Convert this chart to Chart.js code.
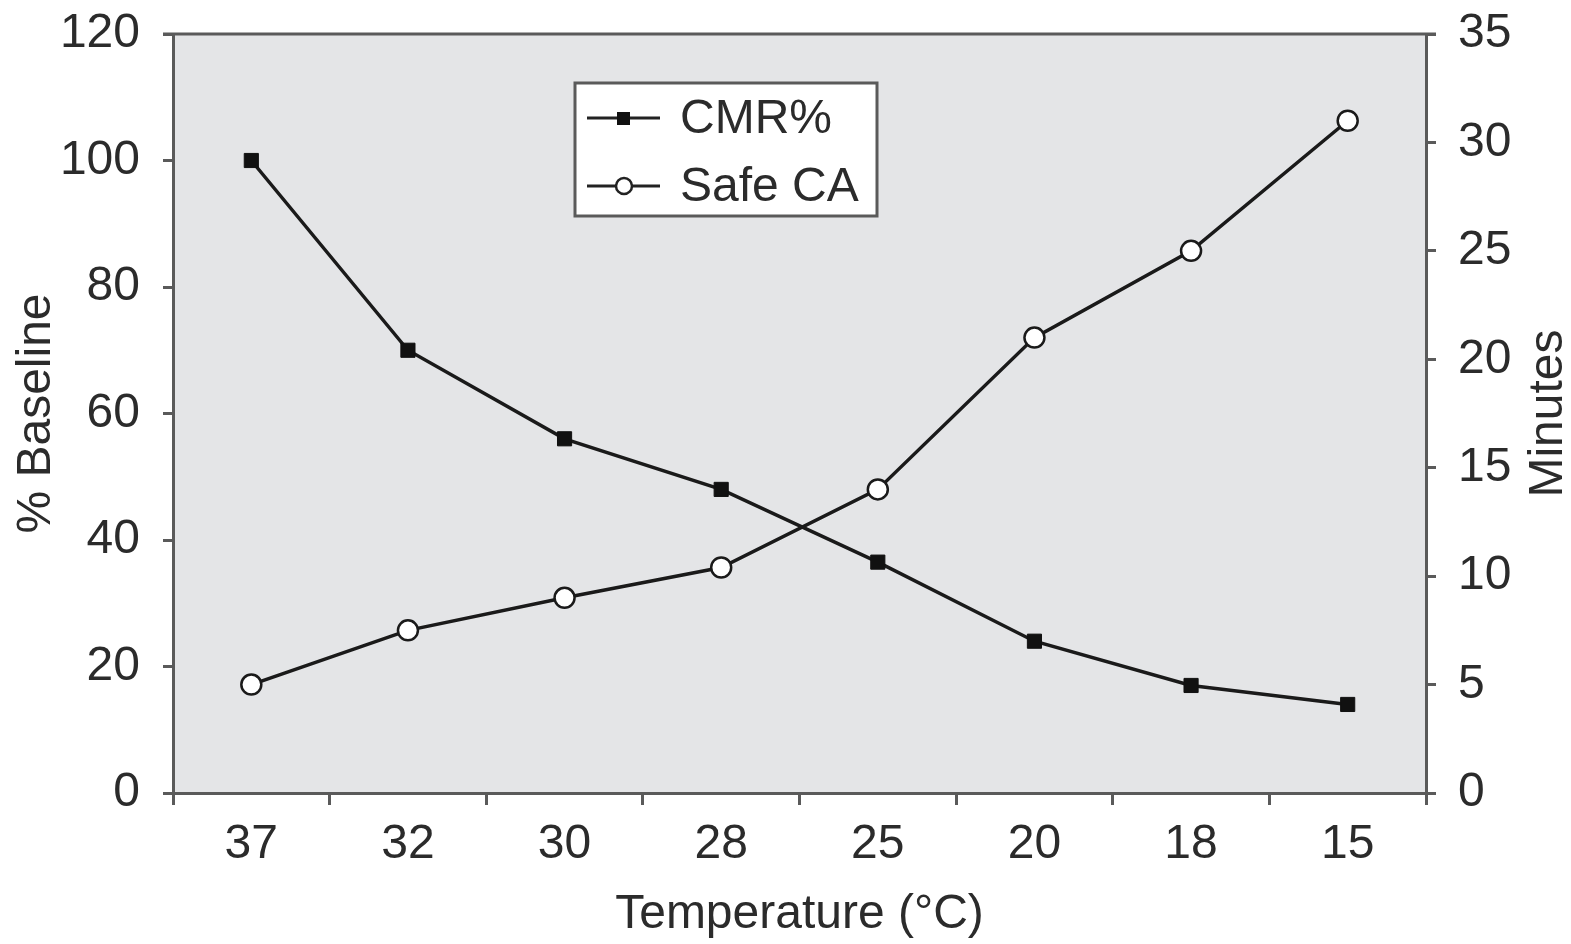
<!DOCTYPE html>
<html>
<head>
<meta charset="utf-8">
<script src="https://cdn.jsdelivr.net/npm/chart.js@4.4.1/dist/chart.umd.min.js"></script>
<style>
  html, body { margin: 0; padding: 0; background: #fff; }
  #wrap { width: 1571px; height: 944px; position: relative; }
</style>
</head>
<body>
<div id="wrap"><canvas id="chart"></canvas></div>
<script>
// temperature categories and the two series
const temperatures = ['37', '32', '30', '28', '25', '20', '18', '15'];
const cmrPercent = [100, 70, 56, 48, 36.5, 24, 17, 14];      // left axis, % baseline
const safeCAMinutes = [5, 7.5, 9, 10.4, 14, 21, 25, 31];      // right axis, minutes
const rightTitle = 'Minutes';

const FONT = '"Liberation Sans", Arial, Helvetica, sans-serif';
const INK = '#2b2b2b';
const AXIS = '#5a5a5a';

// gray plot background + top frame line
const plotFrame = {
  id: 'plotFrame',
  beforeDraw(chart) {
    const { ctx, chartArea: a } = chart;
    ctx.save();
    ctx.fillStyle = '#e4e5e7';
    ctx.fillRect(a.left, a.top, a.right - a.left, a.bottom - a.top);
    ctx.strokeStyle = AXIS;
    ctx.lineWidth = 3;
    ctx.beginPath();
    ctx.moveTo(a.left - 10, a.top);
    ctx.lineTo(a.right + 10, a.top);
    ctx.stroke();
    ctx.restore();
  }
};

// right axis title reads bottom-to-top in the original, chart.js rotates it the other way
const rightAxisTitle = {
  id: 'rightAxisTitle',
  afterDraw(chart) {
    const { ctx, chartArea: a } = chart;
    ctx.save();
    ctx.translate(chart.width - 22, (a.top + a.bottom) / 2);
    ctx.rotate(-Math.PI / 2);
    ctx.font = '48px ' + FONT;
    ctx.fillStyle = INK;
    ctx.textAlign = 'center';
    ctx.textBaseline = 'middle';
    ctx.fillText(rightTitle, 0, 0);
    ctx.restore();
  }
};

// boxed legend inside the plot, like the original
const boxLegend = {
  id: 'boxLegend',
  afterDraw(chart) {
    const { ctx, chartArea: a } = chart;
    const x = a.left + 402, y = a.top + 49, w = 302, h = 133;
    ctx.save();
    ctx.fillStyle = '#fff';
    ctx.fillRect(x, y, w, h);
    ctx.strokeStyle = AXIS;
    ctx.lineWidth = 3;
    ctx.strokeRect(x, y, w, h);
    ctx.font = '48px ' + FONT;
    ctx.textBaseline = 'middle';
    chart.data.datasets.forEach((ds, i) => {
      const cy = y + 35 + i * 68;
      ctx.strokeStyle = '#222';
      ctx.lineWidth = 3;
      ctx.beginPath();
      ctx.moveTo(x + 12, cy);
      ctx.lineTo(x + 85, cy);
      ctx.stroke();
      if (ds.pointStyle === 'rect') {
        ctx.fillStyle = '#111';
        ctx.fillRect(x + 42, cy - 6, 13, 13);
      } else {
        ctx.fillStyle = '#fff';
        ctx.lineWidth = 2.5;
        ctx.beginPath();
        ctx.arc(x + 49, cy, 8, 0, Math.PI * 2);
        ctx.fill();
        ctx.stroke();
      }
      ctx.fillStyle = INK;
      ctx.fillText(ds.label, x + 105, cy + 2);
    });
    ctx.restore();
  }
};

const tickFont = { family: FONT, size: 48 };

// fixed axis sizes so the plot box lands where the original has it
function fixY(width) {
  return scale => {
    scale.width = width;
    scale.paddingTop = 0;
    scale.paddingBottom = 0;
  };
}

new Chart(document.getElementById('chart'), {
  type: 'line',
  data: {
    labels: temperatures,
    datasets: [
      {
        label: 'CMR%',
        data: cmrPercent,
        yAxisID: 'y',
        borderColor: '#1a1a1a',
        borderWidth: 3.5,
        pointStyle: 'rect',
        pointRadius: 10,
        pointBackgroundColor: '#111',
        pointBorderColor: '#111',
        pointBorderWidth: 1,
        tension: 0
      },
      {
        label: 'Safe CA',
        data: safeCAMinutes,
        yAxisID: 'y1',
        borderColor: '#1a1a1a',
        borderWidth: 3.5,
        pointStyle: 'circle',
        pointRadius: 10,
        pointBackgroundColor: '#fff',
        pointBorderColor: '#1a1a1a',
        pointBorderWidth: 2.5,
        tension: 0
      }
    ]
  },
  options: {
    responsive: true,
    maintainAspectRatio: false,
    animation: false,
    layout: { padding: { top: 34, left: 8, right: 60, bottom: 0 } },
    plugins: {
      legend: { display: false },
      tooltip: { enabled: false }
    },
    scales: {
      x: {
        offset: true,
        afterFit(scale) { scale.height = 151; },
        grid: { offset: true, drawOnChartArea: false, color: AXIS, lineWidth: 3, tickLength: 12 },
        border: { color: AXIS, width: 3 },
        ticks: { font: tickFont, color: INK, padding: 11, maxRotation: 0 },
        title: { display: true, text: 'Temperature (°C)', font: tickFont, color: INK, padding: { top: 12, bottom: 0 } }
      },
      y: {
        position: 'left',
        min: 0, max: 120,
        afterFit: fixY(165),
        ticks: { stepSize: 20, font: tickFont, color: INK, padding: 23 },
        grid: { drawOnChartArea: false, color: AXIS, lineWidth: 3, tickLength: 10 },
        border: { color: AXIS, width: 3 },
        title: { display: true, text: '% Baseline', font: tickFont, color: INK, padding: { top: 0, bottom: 0 } }
      },
      y1: {
        position: 'right',
        min: 0, max: 35,
        afterFit: fixY(85),
        ticks: { stepSize: 5, font: tickFont, color: INK, padding: 22 },
        grid: { drawOnChartArea: false, color: AXIS, lineWidth: 3, tickLength: 10 },
        border: { color: AXIS, width: 3 },
        title: { display: false }
      }
    }
  },
  plugins: [plotFrame, boxLegend, rightAxisTitle]
});
</script>
</body>
</html>
